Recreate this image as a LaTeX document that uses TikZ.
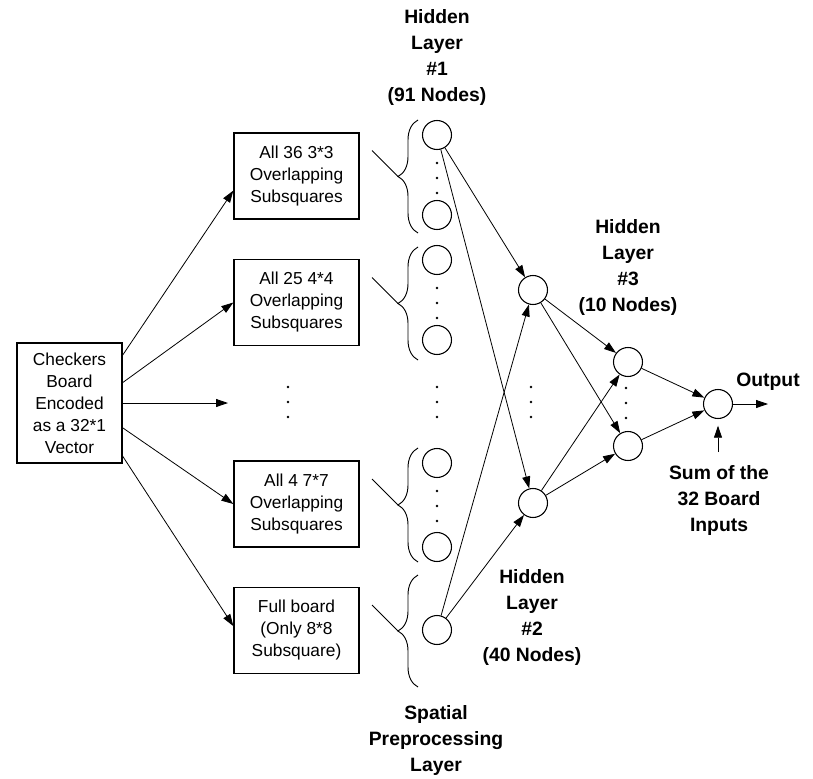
\documentclass[tikz,border=0pt]{standalone}
\usepackage{fontspec}
\setmainfont{Liberation Sans}
\usetikzlibrary{arrows.meta, positioning, decorations.pathreplacing}

\begin{document}
\begin{tikzpicture}[
  x=0.75pt, y=-0.75pt,
  box/.style={rectangle, draw=black, line width=1pt, align=center,
              inner sep=0pt, font=\fontsize{13}{16.5}\selectfont},
  sqbox/.style={box, minimum width=93.75pt, minimum height=64.5pt},
  unit/.style={circle, draw=black, line width=0.8pt, minimum size=21.75pt, inner sep=0pt},
  lbl/.style={align=center, inner sep=0pt, font=\fontsize{14.5}{19.5}\selectfont\bfseries},
  arrow/.style={-{Triangle[length=9pt,width=6pt]}, line width=0.6pt},
  grp/.style={decorate, decoration={brace, amplitude=15pt}, line width=0.7pt}
]
\useasboundingbox (0,0) rectangle (813,778);

% input and subsquare boxes
\node[box, minimum width=78.75pt, minimum height=90pt] (board) at (69.5,403) {%
  Checkers\\Board\\Encoded\\as a 32*1\\Vector};
\node[sqbox] (sq3) at (296.5,176) {All 36 3*3\\Overlapping\\Subsquares};
\node[sqbox] (sq4) at (296.5,302.5) {All 25 4*4\\Overlapping\\Subsquares};
\node[sqbox] (sq7) at (296.5,504) {All 4 7*7\\Overlapping\\Subsquares};
\node[sqbox] (sq8) at (296.5,630.5) {Full board\\(Only 8*8\\Subsquare)};
\coordinate (mid) at (228,403);

\draw[arrow] (board.42) -- (sq3.193);
\draw[arrow] (board.21) -- (sq4.west);
\draw[arrow] (board.east) -- (mid);
\draw[arrow] (board.-25) -- (sq7.west);
\draw[arrow] (board.-45) -- (sq8.176);

% braces for the spatial layer
\foreach \i/\top/\bot in {1/120/233, 2/247/360, 3/448/562, 4/575/687} {
  \draw[grp] (418,\bot) -- (418,\top);
  \coordinate (tip\i) at (398,{(\top+\bot)/2});
  \coordinate (tick\i) at (372,{(\top+\bot)/2-26});
  \draw[line width=0.6pt] (tick\i) -- (tip\i);
}

% units
\node[unit] (h1a) at (437,135) {};
\node[unit] (h1b) at (437,215) {};
\node[unit] (h1c) at (437,260) {};
\node[unit] (h1d) at (437,340) {};
\node[unit] (h1e) at (437,463) {};
\node[unit] (h1f) at (437,547) {};
\node[unit] (h1g) at (437,630) {};
\node[unit] (h2a) at (533,290) {};
\node[unit] (h2b) at (533,503) {};
\node[unit] (h3a) at (628,362) {};
\node[unit] (h3b) at (628,446) {};
\node[unit] (outn) at (718,404) {};
\coordinate (outend) at (768,404);
\coordinate (sumtail) at (718,452);

% dots
\foreach \x/\y in {288/402, 437/178, 437/303, 437/402, 437/506, 531/402, 626/403}
  \foreach \d in {-15,0,15}
    \fill (\x,{\y+\d}) circle (1.1pt);

% connections
\foreach \s in {h1a, h1g}
  \foreach \t in {h2a, h2b}
    \draw[arrow] (\s) -- (\t);
\foreach \s in {h2a, h2b}
  \foreach \t in {h3a, h3b}
    \draw[arrow] (\s) -- (\t);
\draw[arrow] (h3a) -- (outn);
\draw[arrow] (h3b) -- (outn);
\draw[arrow] (outn) -- (outend);
\draw[arrow, shorten >=5pt] (sumtail) -- (outn);

% labels
\node[lbl] (lh1) at (437,57) {Hidden\\Layer\\\#1\\(91 Nodes)};
\node[lbl] (lh3) at (628,267) {Hidden\\Layer\\\#3\\(10 Nodes)};
\node[lbl] (lh2) at (532,617) {Hidden\\Layer\\\#2\\(40 Nodes)};
\node[lbl] (lsp) at (436,740) {Spatial\\Preprocessing\\Layer};
\node[lbl] (lout) at (768,382) {Output};
\node[lbl] (lsum) at (719,500) {Sum of the\\32 Board\\Inputs};
\end{tikzpicture}
\end{document}
